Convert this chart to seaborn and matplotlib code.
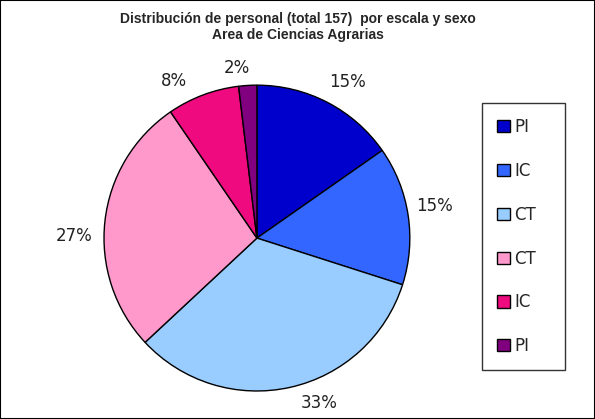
import matplotlib
matplotlib.use("Agg")
import matplotlib.pyplot as plt
import seaborn as sns

# Data (total 157)
labels = ['PI', 'IC', 'CT', 'CT', 'IC', 'PI']
counts = [24, 23, 52, 43, 12, 3]
colors = ['#0000CC', '#3366FF', '#99CCFF', '#FF99CC', '#F00A80', '#800080']
# where Excel put the percentage labels (in pie-radius units)
label_pos = [(0.595, 1.02), (1.163, 0.209), (0.41, -1.08),
             (-1.196, 0.013), (-0.54, 1.026), (-0.13, 1.11)]

sns.set_theme(style='white')
plt.rcParams['font.family'] = ['DejaVu Sans']

fig = plt.figure(figsize=(5.95, 4.19), dpi=100)
ax = fig.add_axes([0.1748, 0.0668, 0.514, 0.730])

wedges, texts, autotexts = ax.pie(
    counts, colors=colors, startangle=90, counterclock=False,
    autopct='%1.0f%%', pctdistance=1.19,
    wedgeprops=dict(edgecolor='black', linewidth=1),
    textprops=dict(fontsize=12, color='#222222'))
ax.set_aspect('equal')
ax.set_xlim(-1, 1)
ax.set_ylim(-1, 1)
for t, pos in zip(autotexts, label_pos):
    t.set_position(pos)

fig.suptitle('Distribución de personal (total 157)  por escala y sexo\nArea de Ciencias Agrarias',
             fontsize=10, fontweight='bold', y=0.972, x=0.5, linespacing=1.25,
             family='Liberation Sans')

leg = fig.legend(wedges, labels, loc='upper left',
                 bbox_to_anchor=(482 / 595, 1 - 368 / 419, 83 / 595, 265 / 419),
                 mode='expand',
                 frameon=True, fancybox=False, edgecolor='black',
                 fontsize=12, handlelength=0.75, handleheight=0.75,
                 handletextpad=0.3, labelspacing=1.55, borderpad=0.9,
                 borderaxespad=0)
leg.get_frame().set_linewidth(1)
for h in leg.legend_handles:
    h.set_edgecolor('black')

fig.add_artist(plt.Rectangle((0, 0), 1, 1, transform=fig.transFigure,
                             fill=False, edgecolor='black', linewidth=1.5))

fig.savefig('out.png', dpi=100)
